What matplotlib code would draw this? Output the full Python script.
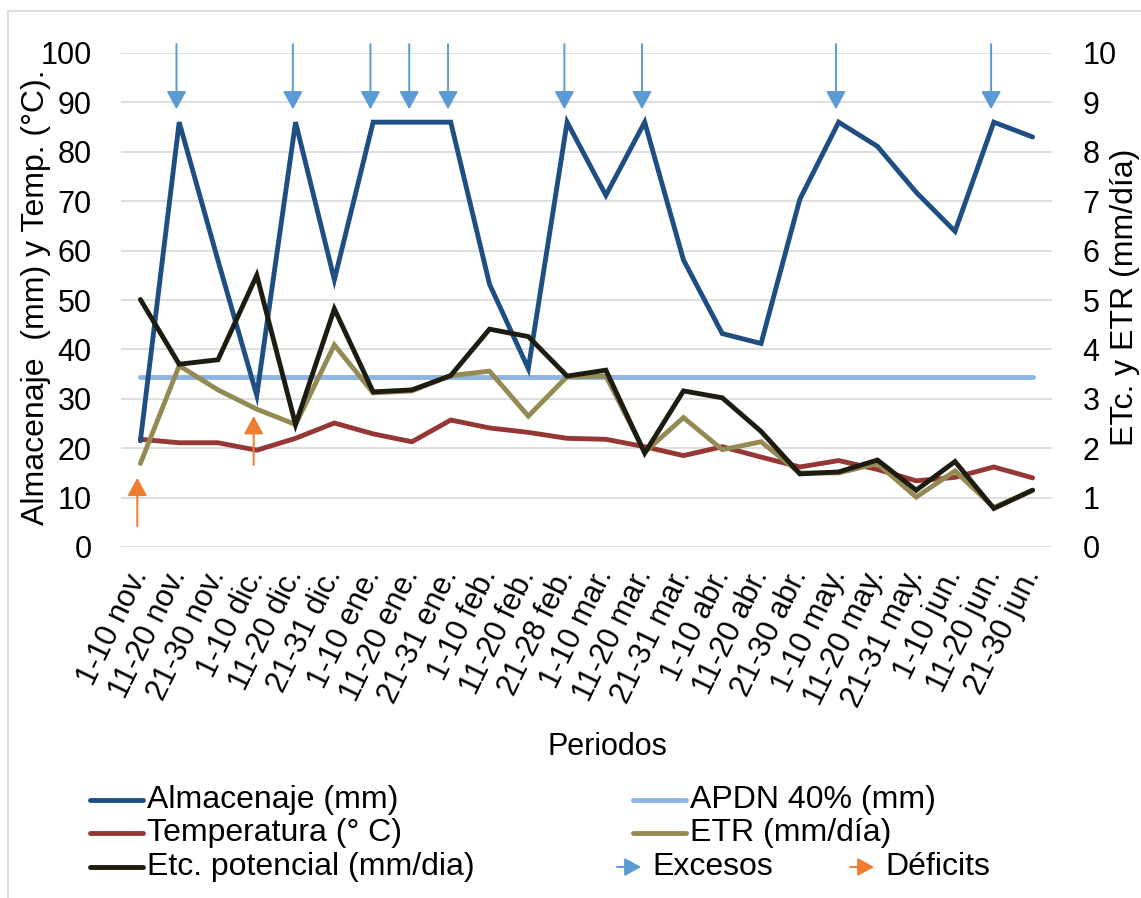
import matplotlib
matplotlib.use("Agg")
import matplotlib.pyplot as plt
from matplotlib.lines import Line2D
from matplotlib.patches import Rectangle, FancyArrowPatch

# periodos decadales, nov. a jun.
periodos = ["1-10 nov.", "11-20 nov.", "21-30 nov.", "1-10 dic.", "11-20 dic.",
            "21-31 dic.", "1-10 ene.", "11-20 ene.", "21-31 ene.", "1-10 feb.",
            "11-20 feb.", "21-28 feb.", "1-10 mar.", "11-20 mar.", "21-31 mar.",
            "1-10 abr.", "11-20 abr.", "21-30 abr.", "1-10 may.", "11-20 may.",
            "21-31 may.", "1-10 jun.", "11-20 jun.", "21-30 jun."]

almacenaje = [21.5, 86, 58, 30.7, 86, 54.1, 86, 86, 86, 53.2, 36.1, 86,
              71.2, 86, 58.1, 43.2, 41.2, 70.4, 86, 81.1, 71.8, 63.9, 86, 83.0]
apdn = [34.4] * 24
temperatura = [21.8, 21.1, 21.1, 19.6, 22.0, 25.1, 22.9, 21.3, 25.7, 24.1, 23.2, 22.0,
               21.8, 20.3, 18.5, 20.3, 18.2, 16.2, 17.5, 15.7, 13.4, 14.1, 16.2, 14.0]
etr = [1.69, 3.67, 3.18, 2.79, 2.48, 4.09, 3.12, 3.16, 3.47, 3.56, 2.65, 3.45,
       3.46, 1.92, 2.62, 1.97, 2.13, 1.50, 1.50, 1.69, 1.01, 1.54, 0.80, 1.15]
etc_pot = [5.01, 3.70, 3.79, 5.50, 2.48, 4.82, 3.14, 3.18, 3.47, 4.41, 4.26, 3.46,
           3.58, 1.90, 3.16, 3.02, 2.34, 1.48, 1.52, 1.76, 1.15, 1.73, 0.78, 1.15]

# flechas: excesos (azul) y deficits (naranja), en escala del eje izquierdo
excesos = [1, 4, 6, 7, 8, 11, 13, 18, 22]
deficits = [0, 3]
deficit_base = [4.2, 16.6]
deficit_punta = [14.0, 26.5]

c_alm = "#1F4E82"
c_apdn = "#8DB4E2"
c_temp = "#953735"
c_etr = "#948A54"
c_etc = "#1E1C11"
c_exc = "#5B9BD5"
c_def = "#ED7D31"

plt.rcParams["font.family"] = ["Liberation Sans", "DejaVu Sans"]
fs = 22
fs_big = 23

W, H = 1141, 898
fig = plt.figure(figsize=(W / 100, H / 100), dpi=100)

def fx(px):
    return px / W

def fy(py):
    return 1 - py / H

ax = fig.add_axes([fx(121), fy(547), fx(1052) - fx(121), fy(53) - fy(547)])
ax2 = ax.twinx()

x = list(range(len(periodos)))
lw = 3.5

ax.plot(x, almacenaje, color=c_alm, lw=lw, solid_capstyle="round", solid_joinstyle="miter", zorder=3)
ax.plot(x, apdn, color=c_apdn, lw=lw, solid_capstyle="round", zorder=2)
ax.plot(x, temperatura, color=c_temp, lw=lw, solid_capstyle="round", solid_joinstyle="miter", zorder=2)
ax2.plot(x, etr, color=c_etr, lw=lw, solid_capstyle="round", solid_joinstyle="miter")
ax2.plot(x, etc_pot, color=c_etc, lw=lw, solid_capstyle="round", solid_joinstyle="miter")

ax.set_xlim(-0.5, 23.5)
ax.set_ylim(0, 100)
ax2.set_ylim(0, 10)
ax.set_yticks(range(0, 101, 10))
ax2.set_yticks(range(0, 11))
ax.grid(axis="y", color="#D9D9D9", lw=1.2)
ax.set_axisbelow(True)

for a in (ax, ax2):
    for s in a.spines.values():
        s.set_visible(False)
    a.tick_params(length=0, labelsize=fs)

ax.tick_params(axis="y", pad=21)
ax2.tick_params(axis="y", pad=22)
ax.set_xticks(x)
ax.set_xticklabels(periodos, rotation=64, ha="right", va="center", rotation_mode="anchor")
ax.tick_params(axis="x", pad=17)

ax.set_xlabel("Periodos", fontsize=fs)
ax.xaxis.set_label_coords(0.522, -0.375)
ax.set_ylabel("Almacenaje  (mm) y Temp. (°C).", fontsize=fs_big)
ax.yaxis.set_label_coords(-0.075, 0.505)
ax2.set_ylabel("ETc. y ETR (mm/día)", fontsize=fs_big, rotation=90, va="top")
ax2.yaxis.set_label_coords(1.062, 0.505)

arrow_kw = dict(arrowstyle="-|>,head_length=1.1,head_width=0.6", mutation_scale=10,
                lw=1.4, shrinkA=0, shrinkB=0)
for i in excesos:
    ax2.annotate("", xy=(i - 0.07, 88.6), xytext=(i - 0.07, 101.8),
                 xycoords=ax.transData, textcoords=ax.transData,
                 arrowprops=dict(color=c_exc, **arrow_kw), annotation_clip=False)
for i, b, p in zip(deficits, deficit_base, deficit_punta):
    ax2.annotate("", xy=(i - 0.08, p), xytext=(i - 0.08, b),
                 xycoords=ax.transData, textcoords=ax.transData,
                 arrowprops=dict(color=c_def, **arrow_kw), annotation_clip=False)

# leyenda dibujada a mano debajo del grafico
filas = [800, 833, 867]
items = [(90, filas[0], c_alm, "Almacenaje (mm)"),
         (90, filas[1], c_temp, "Temperatura (° C)"),
         (90, filas[2], c_etc, "Etc. potencial (mm/dia)"),
         (633, filas[0], c_apdn, "APDN 40% (mm)"),
         (633, filas[1], c_etr, "ETR (mm/día)")]
for x0, y0, col, txt in items:
    fig.add_artist(Line2D([fx(x0), fx(x0 + 53)], [fy(y0), fy(y0)], color=col,
                          lw=lw, solid_capstyle="round"))
    fig.text(fx(x0 + 57), fy(y0), txt, fontsize=fs_big, va="center", ha="left")

for x0, col, txt in [(617, c_exc, "Excesos"), (850, c_def, "Déficits")]:
    fig.add_artist(FancyArrowPatch(
        (fx(x0), fy(filas[2])), (fx(x0 + 24), fy(filas[2])), transform=fig.transFigure,
        arrowstyle="-|>,head_length=1.0,head_width=0.55", mutation_scale=10,
        color=col, lw=1.4, shrinkA=0, shrinkB=0))
    fig.text(fx(x0 + 35), fy(filas[2]), txt, fontsize=fs_big, va="center", ha="left")

fig.add_artist(Rectangle((fx(8), fy(H + 5)), 1.2, fy(11) - fy(H + 5),
                         transform=fig.transFigure, fill=False,
                         edgecolor="#D9D9D9", lw=1.2))

fig.savefig("out.png", dpi=100)
